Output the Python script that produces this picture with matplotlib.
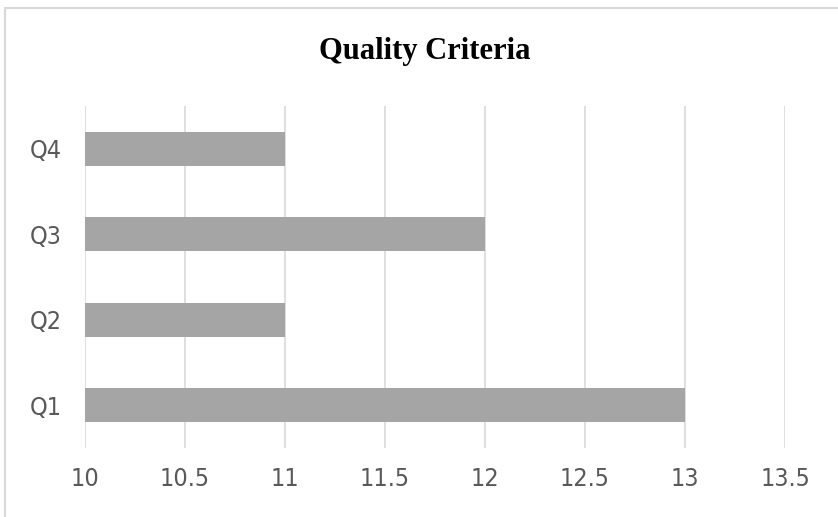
#!/usr/bin/env python3

import matplotlib
matplotlib.use("Agg")
import matplotlib.pyplot as plt
from matplotlib.patches import Rectangle

categories = ["Q1", "Q2", "Q3", "Q4"]
values = [13, 11, 12, 11]
xticks = [10, 10.5, 11, 11.5, 12, 12.5, 13, 13.5]
xtick_labels = ["10", "10.5", "11", "11.5", "12", "12.5", "13", "13.5"]

plt.rcParams['font.family'] = ['DejaVu Sans']
plt.rcParams['font.stretch'] = 'condensed'

fig = plt.figure(figsize=(8.38, 5.17), dpi=100)
ax = fig.add_axes([85 / 838, 1 - 448 / 517, 700 / 838, 342 / 517])

# chart frame (only top and left edges show in the reference)
fig.patches.append(Rectangle((5 / 838, -0.1), 1.2, 1 - 8 / 517 + 0.1,
                             transform=fig.transFigure, fill=False,
                             edgecolor='#d9d9d9', linewidth=1.5))

base = 10
ax.barh(range(len(categories)), [v - base for v in values], left=base,
        height=0.4, color='#a5a5a5', zorder=2)

ax.set_xlim(10, 13.5)
ax.set_ylim(-0.5, 3.5)
ax.set_xticks(xticks)
ax.set_xticklabels(xtick_labels)
ax.set_yticks(range(len(categories)))
ax.set_yticklabels(categories)
ax.tick_params(length=0, labelsize=18, labelcolor='#595959')
ax.tick_params(axis='x', pad=14)
ax.tick_params(axis='y', pad=17)
ax.grid(axis='x', color='#d9d9d9', linewidth=1.2, zorder=0)
ax.set_axisbelow(True)
for s in ax.spines.values():
    s.set_visible(False)

fig.text(425 / 838, 1 - 51 / 517, "Quality Criteria", ha='center', va='center',
         fontsize=22, fontweight='bold', family=['Liberation Serif', 'DejaVu Serif'])

fig.savefig("out.png", dpi=100)
